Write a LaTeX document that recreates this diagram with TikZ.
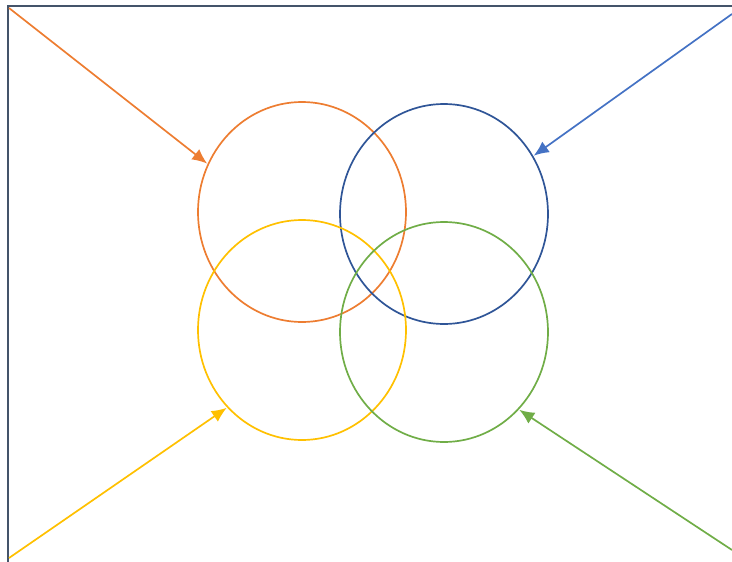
\documentclass[tikz,border=0pt]{standalone}
\usetikzlibrary{shapes.geometric,arrows.meta}
\definecolor{cOrange}{HTML}{ED7D31}
\definecolor{cBlue}{HTML}{2F5597}
\definecolor{cBlueA}{HTML}{4472C4}
\definecolor{cYellow}{HTML}{FFC000}
\definecolor{cGreen}{HTML}{70AD47}
\definecolor{cFrame}{HTML}{44546A}
\tikzset{
  ring/.style={draw=#1, ellipse, line width=1.7pt, minimum width=208pt, minimum height=220pt, inner sep=0pt},
  pointer/.style={draw=#1, line width=1.7pt, -{Latex[length=15pt,width=13pt]}, shorten >=0.5pt}
}
\begin{document}
\begin{tikzpicture}[x=1pt,y=-1pt]
\useasboundingbox (0,0) rectangle (732,562);
\draw[cFrame, line width=2pt] (8,562) -- (8,6) -- (732,6);
\node[ring=cOrange] (co) at (302,212) {};
\node[ring=cBlue] (cb) at (444,214) {};
\node[ring=cYellow] (cy) at (302,330) {};
\node[ring=cGreen] (cg) at (444,332) {};
\coordinate (so) at (9,8);
\coordinate (sb) at (732,14);
\coordinate (sy) at (9,558);
\coordinate (sg) at (732,550);
\draw[pointer=cOrange] (so) -- (co.153);
\draw[pointer=cBlueA] (sb) -- (cb.33);
\draw[pointer=cYellow] (sy) -- (cy.226);
\draw[pointer=cGreen] (sg) -- (cg.-46.5);
\end{tikzpicture}
\end{document}
